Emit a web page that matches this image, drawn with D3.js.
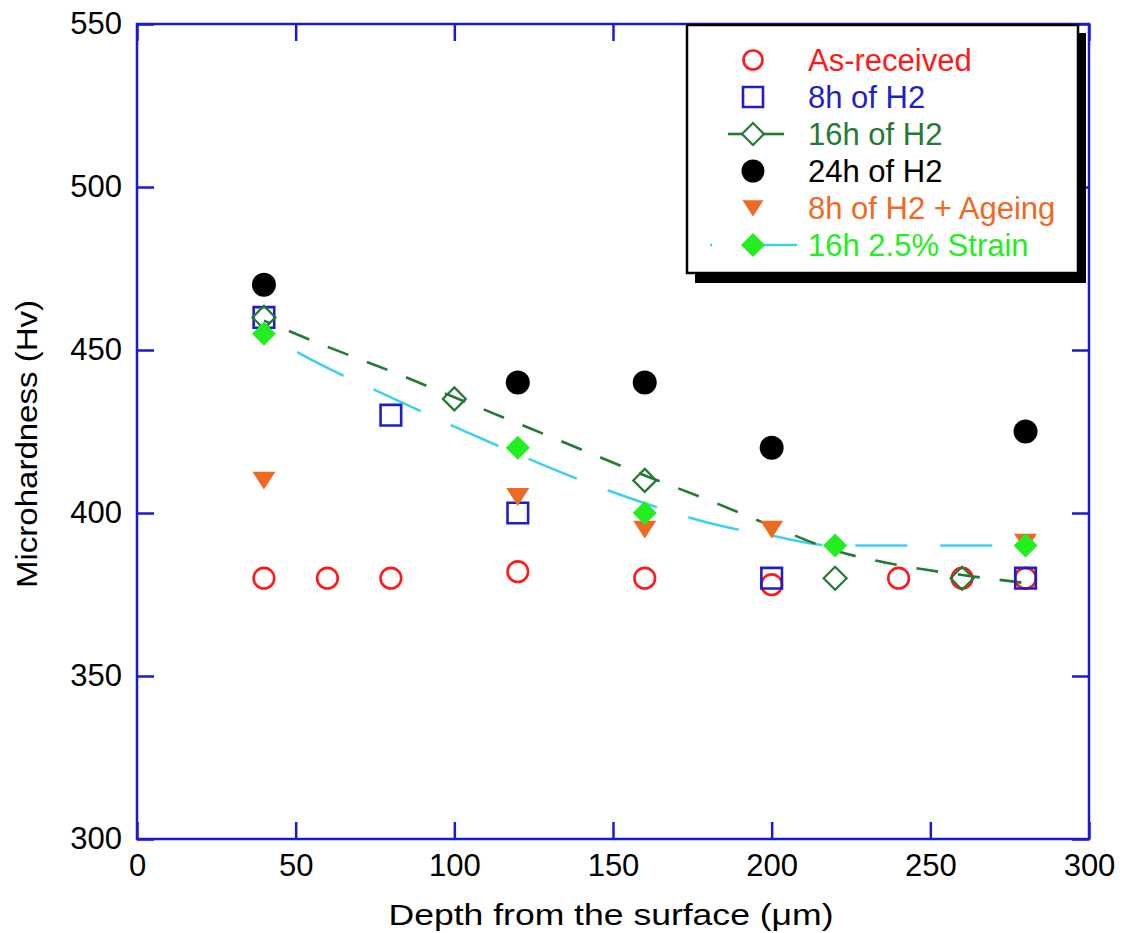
<!DOCTYPE html>
<html>
<head>
<meta charset="utf-8">
<script src="https://cdn.jsdelivr.net/npm/d3@7"></script>
<style>
  html, body { margin: 0; padding: 0; background: #fff; }
  svg { display: block; }
  text { font-family: "Liberation Sans", Arial, sans-serif; }
</style>
</head>
<body>
<svg id="chart" width="1125" height="933"></svg>
<script>
// Microhardness profiles vs depth
const xTicks = [0, 50, 100, 150, 200, 250, 300];
const yTicks = [300, 350, 400, 450, 500, 550];

const asReceivedX = [40, 60, 80, 120, 160, 200, 240, 260, 280];
const asReceivedY = [380, 380, 380, 382, 380, 378, 380, 380, 380];

const h8X = [40, 80, 120, 200, 280];
const h8Y = [460, 430, 400, 380, 380];

const h16X = [40, 100, 160, 220, 260];
const h16Y = [460, 435, 410, 380, 380];

const h24X = [40, 120, 160, 200, 280];
const h24Y = [470, 440, 440, 420, 425];

const ageingX = [40, 120, 160, 200, 280];
const ageingY = [410, 405, 395, 395, 391];

const strainX = [40, 120, 160, 220, 280];
const strainY = [455, 420, 400, 390, 390];

// smoothed trend curves
const h16FitX = [40, 60, 80, 100, 120, 140, 160, 180, 200, 220, 240, 260, 280];
const h16FitY = [459, 451, 443.5, 435.5, 427.5, 419.5, 411.5, 404, 396, 388.5, 384, 381, 378.5];

const strainFitX = [40, 60, 80, 100, 120, 140, 160, 180, 200, 220, 240, 260, 280];
const strainFitY = [455, 444.5, 435.5, 426.5, 418, 410, 403, 397, 393, 390, 390, 390, 390];

const legendLabels = ["As-received", "8h of H2", "16h of H2", "24h of H2", "8h of H2 + Ageing", "16h 2.5% Strain"];

const C = {
  axis: "#1a1ad6",
  red: "#ff1a1a",
  blue: "#1f1fc8",
  dkgreen: "#237a35",
  black: "#000000",
  orange: "#ee6a22",
  green: "#22ee22",
  cyan: "#3fd0ee"
};

const svg = d3.select("#chart");
const L = 137, R = 1089, T = 24, B = 839;

const x = d3.scaleLinear().domain([0, 300]).range([L, R]);
const y = d3.scaleLinear().domain([300, 550]).range([B, T]);

const zip = (xs, ys) => xs.map((v, i) => [v, ys[i]]);

// axes with inward ticks on all sides
const tick = 17;
function styleAxis(g) {
  g.select(".domain").remove();
  g.selectAll(".tick line").attr("stroke", C.axis).attr("stroke-width", 2.5);
  g.selectAll(".tick text").attr("fill", "#000").attr("font-size", 31)
    .attr("font-family", "Liberation Sans, Arial, sans-serif");
}
svg.append("g").attr("transform", `translate(0,${B})`)
  .call(d3.axisBottom(x).tickValues(xTicks).tickSizeInner(-tick).tickSizeOuter(0).tickPadding(15))
  .call(styleAxis);
svg.append("g").attr("transform", `translate(0,${T})`)
  .call(d3.axisTop(x).tickValues(xTicks).tickSizeInner(-tick).tickSizeOuter(0).tickFormat(""))
  .call(styleAxis);
svg.append("g").attr("transform", `translate(${L},0)`)
  .call(d3.axisLeft(y).tickValues(yTicks).tickSizeInner(-tick).tickSizeOuter(0).tickPadding(15))
  .call(styleAxis);
svg.append("g").attr("transform", `translate(${R},0)`)
  .call(d3.axisRight(y).tickValues(yTicks).tickSizeInner(-tick).tickSizeOuter(0).tickFormat(""))
  .call(styleAxis);

svg.append("rect").attr("x", L).attr("y", T).attr("width", R - L).attr("height", B - T)
  .attr("fill", "none").attr("stroke", C.axis).attr("stroke-width", 2.5);

// axis titles
svg.append("text").attr("x", (L + R) / 2 - 2).attr("y", 925).attr("text-anchor", "middle")
  .attr("font-size", 30).attr("textLength", 445).attr("lengthAdjust", "spacingAndGlyphs")
  .text("Depth from the surface (\u03bcm)");
svg.append("text").attr("transform", "translate(37,444) rotate(-90)").attr("text-anchor", "middle")
  .attr("font-size", 30).attr("textLength", 288).attr("lengthAdjust", "spacingAndGlyphs")
  .text("Microhardness (Hv)");

// trend lines
const line = d3.line().x(d => x(d[0])).y(d => y(d[1])).curve(d3.curveMonotoneX);
svg.append("path").datum(zip(strainFitX, strainFitY)).attr("d", line)
  .attr("fill", "none").attr("stroke", C.cyan).attr("stroke-width", 2.5)
  .attr("stroke-dasharray", "52,33").attr("stroke-dashoffset", 47);
svg.append("path").datum(zip(h16FitX, h16FitY)).attr("d", line)
  .attr("fill", "none").attr("stroke", C.dkgreen).attr("stroke-width", 2.6)
  .attr("stroke-dasharray", "22,20").attr("stroke-dashoffset", 15);

// marker shapes
const shapes = {
  circle: r => `M${-r},0a${r},${r} 0 1,0 ${2 * r},0a${r},${r} 0 1,0 ${-2 * r},0Z`,
  square: s => `M${-s},${-s}H${s}V${s}H${-s}Z`,
  diamond: s => `M0,${-s}L${s},0L0,${s}L${-s},0Z`,
  triDown: s => `M${-s},${-s * 0.75}L${s},${-s * 0.75}L0,${s * 0.8}Z`
};

function markers(xs, ys, shape, size, fill, stroke, sw) {
  svg.append("g").selectAll("path").data(zip(xs, ys)).join("path")
    .attr("transform", d => `translate(${x(d[0])},${y(d[1])})`)
    .attr("d", shapes[shape](size))
    .attr("fill", fill).attr("stroke", stroke).attr("stroke-width", sw);
}

markers(asReceivedX, asReceivedY, "circle", 10.3, "none", C.red, 2.6);
markers(h8X, h8Y, "square", 10.3, "none", C.blue, 2.6);
markers(h16X, h16Y, "diamond", 11.5, "none", C.dkgreen, 2.2);
markers(h24X, h24Y, "circle", 12, C.black, "none", 0);
markers(ageingX, ageingY, "triDown", 11.5, C.orange, "none", 0);
markers(strainX, strainY, "diamond", 12, C.green, "none", 0);

// legend box with drop shadow
const lg = svg.append("g");
lg.append("rect").attr("x", 695).attr("y", 33).attr("width", 391).attr("height", 250).attr("fill", "#000");
lg.append("rect").attr("x", 687).attr("y", 25).attr("width", 391).attr("height", 248)
  .attr("fill", "#fff").attr("stroke", "#000").attr("stroke-width", 2.5);

const rowY = d3.scalePoint().domain(legendLabels).range([60, 245]);
const legendColors = [C.red, C.blue, C.dkgreen, C.black, C.orange, C.green];
const symX = 753;

legendLabels.forEach((lab, i) => {
  const cy = rowY(lab);
  const g = lg.append("g").attr("transform", `translate(${symX},${cy})`);
  if (i === 0) g.append("path").attr("d", shapes.circle(9.5)).attr("fill", "none").attr("stroke", C.red).attr("stroke-width", 2.6);
  if (i === 1) g.append("path").attr("d", shapes.square(10)).attr("fill", "none").attr("stroke", C.blue).attr("stroke-width", 2.6);
  if (i === 2) {
    g.append("line").attr("x1", -25).attr("x2", -10).attr("stroke", C.dkgreen).attr("stroke-width", 2.6);
    g.append("line").attr("x1", 9).attr("x2", 40).attr("stroke", C.dkgreen).attr("stroke-width", 2.6)
      .attr("stroke-dasharray", "22,20");
    g.append("path").attr("d", shapes.diamond(11)).attr("fill", "none").attr("stroke", C.dkgreen).attr("stroke-width", 2.2);
  }
  if (i === 3) g.append("path").attr("d", shapes.circle(11.5)).attr("fill", C.black);
  if (i === 4) g.append("path").attr("d", shapes.triDown(10.5)).attr("fill", C.orange);
  if (i === 5) {
    g.append("line").attr("x1", -43).attr("x2", -41).attr("stroke", C.cyan).attr("stroke-width", 2.5);
    g.append("line").attr("x1", 0).attr("x2", 44).attr("stroke", C.cyan).attr("stroke-width", 2.5);
    g.append("path").attr("d", shapes.diamond(12)).attr("fill", C.green);
  }
  lg.append("text").attr("x", 808).attr("y", cy + 11).attr("font-size", 31)
    .attr("fill", legendColors[i]).text(lab);
});
</script>
</body>
</html>
